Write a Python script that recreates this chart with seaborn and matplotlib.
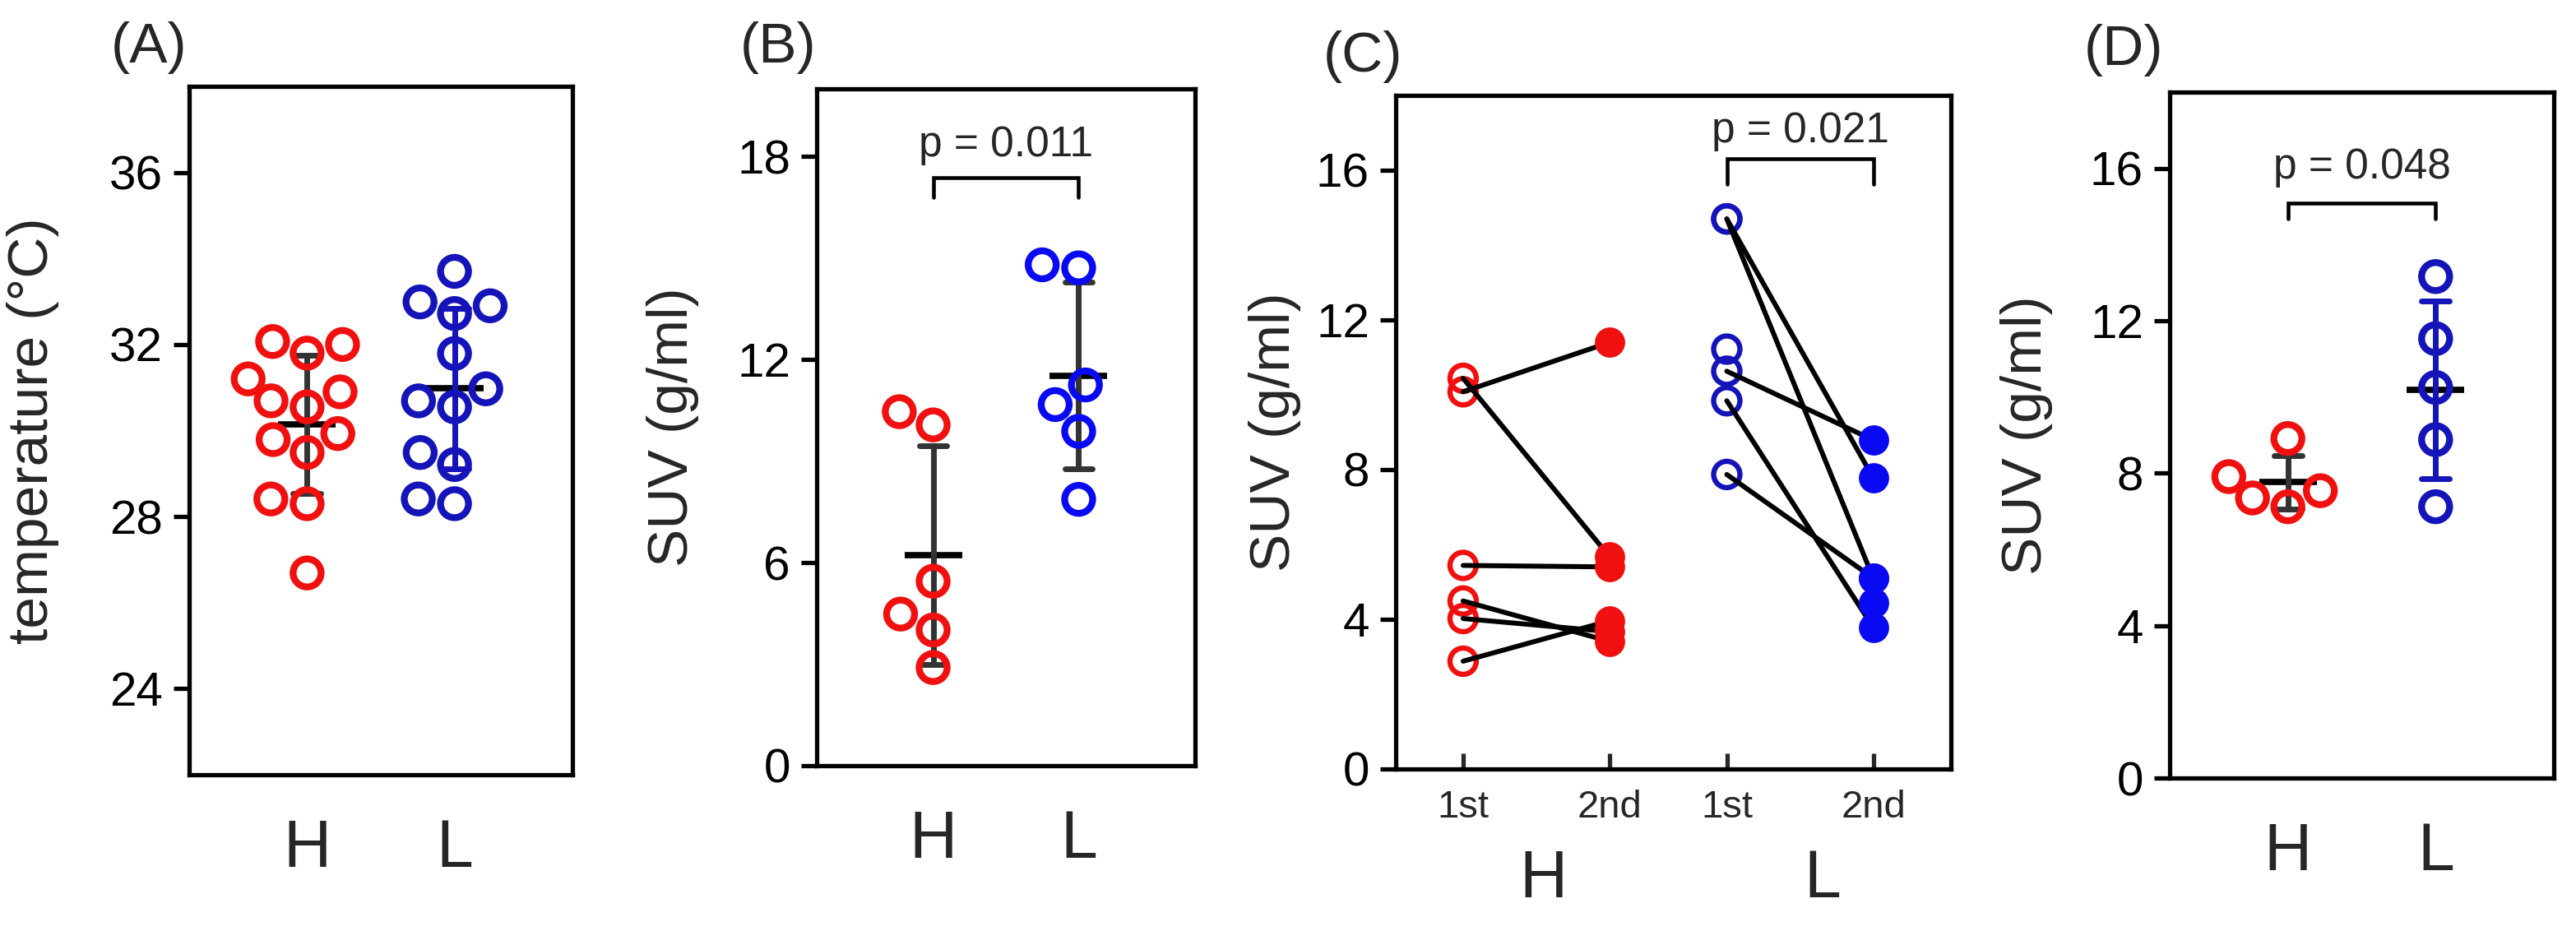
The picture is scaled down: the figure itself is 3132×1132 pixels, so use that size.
import numpy as np
import pandas as pd
import matplotlib
matplotlib.use("Agg")
import matplotlib.pyplot as plt
import matplotlib.transforms as mtransforms
import seaborn as sns

# (A) temperature, deg C
temp_H = [32.07, 32.0, 31.8, 31.2, 30.9, 30.69, 30.55, 29.93, 29.79, 29.49, 28.41, 28.30, 26.69]
temp_L = [33.70, 32.72, 32.90, 32.99, 31.79, 30.97, 30.55, 30.69, 29.21, 29.49, 28.30, 28.41]

# (B) SUV g/ml
suv_b_H = [10.07, 10.46, 5.45, 4.48, 4.01, 2.90]
suv_b_L = [14.80, 14.71, 11.25, 10.67, 9.88, 7.87]

# (C) paired SUV, 1st vs 2nd
c_H_1st = [10.44, 10.08, 5.44, 4.49, 4.02, 2.88]
c_H_2nd = [5.67, 11.40, 5.40, 3.41, 3.67, 3.96]
c_L_1st = [14.70, 14.70, 10.63, 9.84, 7.87, 11.22]
c_L_2nd = [7.78, 5.10, 8.79, 3.78, 5.10, 4.44]
c_L_linked = [True, True, True, True, True, False]

# (D) SUV g/ml
suv_d_H = [8.91, 7.91, 7.54, 7.35, 7.12]
suv_d_L = [13.16, 11.53, 10.25, 8.88, 7.12]

groups = ["H", "L"]
stage_labels = ["1st", "2nd", "1st", "2nd"]
p_texts = ["p = 0.011", "p = 0.021", "p = 0.048"]

RED = "#F01010"
DKBLUE = "#1414B8"
BLUE = "#0A0AF2"
GREY = "#333333"

sns.set_style("ticks")
plt.rcParams["font.family"] = ["Liberation Sans", "DejaVu Sans"]

W, H = 3132, 1132
fig = plt.figure(figsize=(W / 100, H / 100), dpi=100)


def px_axes(x0, y0, x1, y1):
    return fig.add_axes([x0 / W, 1 - y1 / H, (x1 - x0) / W, (y1 - y0) / H])


def style_box(ax):
    for s in ax.spines.values():
        s.set_visible(True)
        s.set_linewidth(3.8)
        s.set_color("black")
    ax.tick_params(axis="y", direction="out", length=14, width=3.8,
                   labelsize=42, pad=9, colors="black")


def dot_panel(ax, values, colors, err_colors):
    df = pd.DataFrame({
        "group": np.repeat(groups, [len(v) for v in values]),
        "value": np.concatenate(values),
    })
    for g, c, ec in zip(groups, colors, err_colors):
        sub = df[df["group"] == g]
        sns.swarmplot(data=sub, x="group", y="value", order=groups, color=c,
                      facecolors="none", edgecolor=c, linewidth=6, size=24.5, ax=ax)
        sns.pointplot(data=sub, x="group", y="value", order=groups, errorbar="sd",
                      capsize=0.19, color="black", marker="_", markersize=50,
                      markeredgewidth=5.5, linestyle="none",
                      err_kws={"color": ec, "linewidth": 5}, ax=ax)
    ax.set_xlim(-0.8, 1.8)
    ax.tick_params(axis="x", length=0, labelsize=58, pad=38)
    ax.set_xlabel("")


def bracket(ax, x0, x1, y_leg, y_top, y_txt, txt):
    ax.plot([x0, x0, x1, x1], [y_leg, y_top, y_top, y_leg], color="black", lw=3.3,
            solid_joinstyle="miter")
    ax.text((x0 + x1) / 2, y_txt, txt, ha="center", va="baseline", fontsize=37)


# ---- (A)
axa = px_axes(230, 105, 696, 942)
dot_panel(axa, [temp_H, temp_L], [RED, DKBLUE], [GREY, DKBLUE])
axa.set_ylim(22, 38)
axa.set_yticks([24, 28, 32, 36])
axa.set_ylabel("temperature (\u00b0C)", fontsize=50)
axa.yaxis.set_label_coords(-0.34, 0.5)
style_box(axa)

# ---- (B)
axb = px_axes(993, 108, 1453, 931)
dot_panel(axb, [suv_b_H, suv_b_L], [RED, BLUE], [GREY, GREY])
axb.set_ylim(0, 20)
axb.set_yticks([0, 6, 12, 18])
axb.set_ylabel("SUV (g/ml)", fontsize=50)
axb.yaxis.set_label_coords(-0.31, 0.5)
style_box(axb)
bracket(axb, 0, 1, 16.8, 17.38, 18.0, p_texts[0])

# ---- (C)
axc = px_axes(1697, 116, 2372, 935)
stage_pos = [0, 1, 1.8, 2.8]
rows = []
for i, (a, b) in enumerate(zip(c_H_1st, c_H_2nd)):
    rows += [("h%d" % i, stage_pos[0], a), ("h%d" % i, stage_pos[1], b)]
for i, (a, b, k) in enumerate(zip(c_L_1st, c_L_2nd, c_L_linked)):
    if k:
        rows += [("l%d" % i, stage_pos[2], a), ("l%d" % i, stage_pos[3], b)]
lines_df = pd.DataFrame(rows, columns=["pair", "x", "value"])

open_kw = dict(facecolor="none", linewidth=4.6, s=23 ** 2, zorder=2, ax=axc)
sns.scatterplot(x=np.full(len(c_H_1st), stage_pos[0]), y=c_H_1st, edgecolor=RED, **open_kw)
sns.scatterplot(x=np.full(len(c_L_1st), stage_pos[2]), y=c_L_1st, edgecolor=DKBLUE, **open_kw)
sns.lineplot(data=lines_df, x="x", y="value", units="pair", estimator=None, sort=False,
             color="black", linewidth=4.3, zorder=3, ax=axc)
fill_kw = dict(linewidth=0, s=26.5 ** 2, zorder=4, ax=axc)
sns.scatterplot(x=np.full(len(c_H_2nd), stage_pos[1]), y=c_H_2nd, color=RED, **fill_kw)
sns.scatterplot(x=np.full(len(c_L_2nd), stage_pos[3]), y=c_L_2nd, color=BLUE, **fill_kw)

axc.set_xlim(-0.46, 3.33)
axc.set_ylim(0, 18)
axc.set_yticks([0, 4, 8, 12, 16])
axc.set_xticks(stage_pos)
axc.set_xticklabels(stage_labels)
axc.tick_params(axis="x", direction="in", length=14, width=3.8, labelsize=34, pad=18)
axc.set_xlabel("")
axc.set_ylabel("SUV (g/ml)", fontsize=50)
axc.yaxis.set_label_coords(-0.171, 0.5)
style_box(axc)
blend = mtransforms.blended_transform_factory(axc.transData, axc.transAxes)
axc.text(0.55, -0.165, "H", transform=blend, ha="center", va="center", fontsize=58)
axc.text(2.45, -0.165, "L", transform=blend, ha="center", va="center", fontsize=58)
bracket(axc, stage_pos[2], stage_pos[3], 15.63, 16.3, 16.75, p_texts[1])

# ---- (D)
axd = px_axes(2638, 112, 3105, 946)
dot_panel(axd, [suv_d_H, suv_d_L], [RED, DKBLUE], [GREY, DKBLUE])
axd.set_ylim(0, 18)
axd.set_yticks([0, 4, 8, 12, 16])
axd.set_ylabel("SUV (g/ml)", fontsize=50)
axd.yaxis.set_label_coords(-0.305, 0.5)
style_box(axd)
bracket(axd, 0, 1, 14.68, 15.08, 15.74, p_texts[2])

# panel letters
for lab, (x, y) in zip(["(A)", "(B)", "(C)", "(D)"],
                       [(181, 58), (946, 58), (1657, 69), (2582, 61)]):
    fig.text(x / W, 1 - y / H, lab, ha="center", va="center", fontsize=50)

fig.savefig("out.png", dpi=100, facecolor="white")
